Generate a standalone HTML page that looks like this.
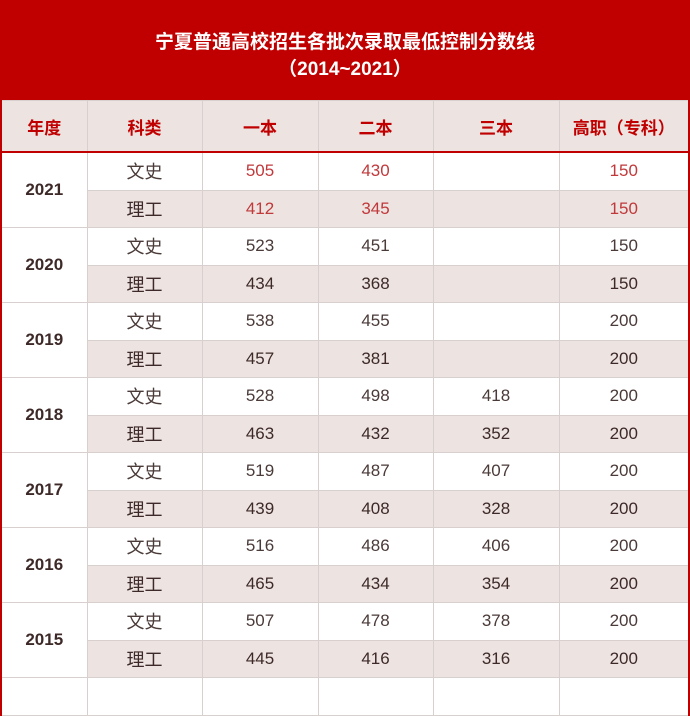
<!DOCTYPE html>
<html><head><meta charset="utf-8"><style>
body{margin:0;width:690px;height:680px;overflow:hidden;background:#fff;font-family:"Liberation Sans","Noto Sans CJK SC",sans-serif;}
.title{position:absolute;left:0;top:0;width:690px;height:100px;background:#c00000;color:#fff;font-weight:bold;font-size:19px;text-align:center;}
.title div{position:absolute;width:100%;}
table{position:absolute;left:0;top:100px;border-collapse:collapse;table-layout:fixed;width:690px;border-left:2px solid #c00000;border-right:2px solid #c00000;}
td{border:1px solid #d8d0ce;text-align:center;height:36.5px;padding:0;font-size:17px;color:#4a3a38;}
td.k{font-size:18px;}
tr.h td{height:50px;background:#ede3e0;color:#c00000;font-weight:bold;font-size:17px;border-bottom:2px solid #c00000;}
tr.b td{background:#ede3e0;color:#3d2a28;}
td.y{background:#fff!important;font-weight:bold;color:#3d2a28;font-size:17px;}
.r td.v{color:#c0393b!important;}
</style></head><body>
<div class="title"><div style="top:27px">宁夏普通高校招生各批次录取最低控制分数线</div><div style="top:54px">（2014~2021）</div></div>
<table>
<colgroup><col style="width:86px"><col style="width:115px"><col style="width:116px"><col style="width:115px"><col style="width:126px"><col></colgroup>
<tr class="h"><td>年度</td><td>科类</td><td>一本</td><td>二本</td><td>三本</td><td>高职（专科）</td></tr>
<tr class="r"><td class="y" rowspan="2">2021</td><td class="k">文史</td><td class="v">505</td><td class="v">430</td><td class="v"></td><td class="v">150</td></tr>
<tr class="b r"><td class="k">理工</td><td class="v">412</td><td class="v">345</td><td class="v"></td><td class="v">150</td></tr>
<tr><td class="y" rowspan="2">2020</td><td class="k">文史</td><td>523</td><td>451</td><td></td><td>150</td></tr>
<tr class="b"><td class="k">理工</td><td>434</td><td>368</td><td></td><td>150</td></tr>
<tr><td class="y" rowspan="2">2019</td><td class="k">文史</td><td>538</td><td>455</td><td></td><td>200</td></tr>
<tr class="b"><td class="k">理工</td><td>457</td><td>381</td><td></td><td>200</td></tr>
<tr><td class="y" rowspan="2">2018</td><td class="k">文史</td><td>528</td><td>498</td><td>418</td><td>200</td></tr>
<tr class="b"><td class="k">理工</td><td>463</td><td>432</td><td>352</td><td>200</td></tr>
<tr><td class="y" rowspan="2">2017</td><td class="k">文史</td><td>519</td><td>487</td><td>407</td><td>200</td></tr>
<tr class="b"><td class="k">理工</td><td>439</td><td>408</td><td>328</td><td>200</td></tr>
<tr><td class="y" rowspan="2">2016</td><td class="k">文史</td><td>516</td><td>486</td><td>406</td><td>200</td></tr>
<tr class="b"><td class="k">理工</td><td>465</td><td>434</td><td>354</td><td>200</td></tr>
<tr><td class="y" rowspan="2">2015</td><td class="k">文史</td><td>507</td><td>478</td><td>378</td><td>200</td></tr>
<tr class="b"><td class="k">理工</td><td>445</td><td>416</td><td>316</td><td>200</td></tr>
<tr><td class="y"></td><td></td><td></td><td></td><td></td><td></td></tr>
</table>
</body></html>
